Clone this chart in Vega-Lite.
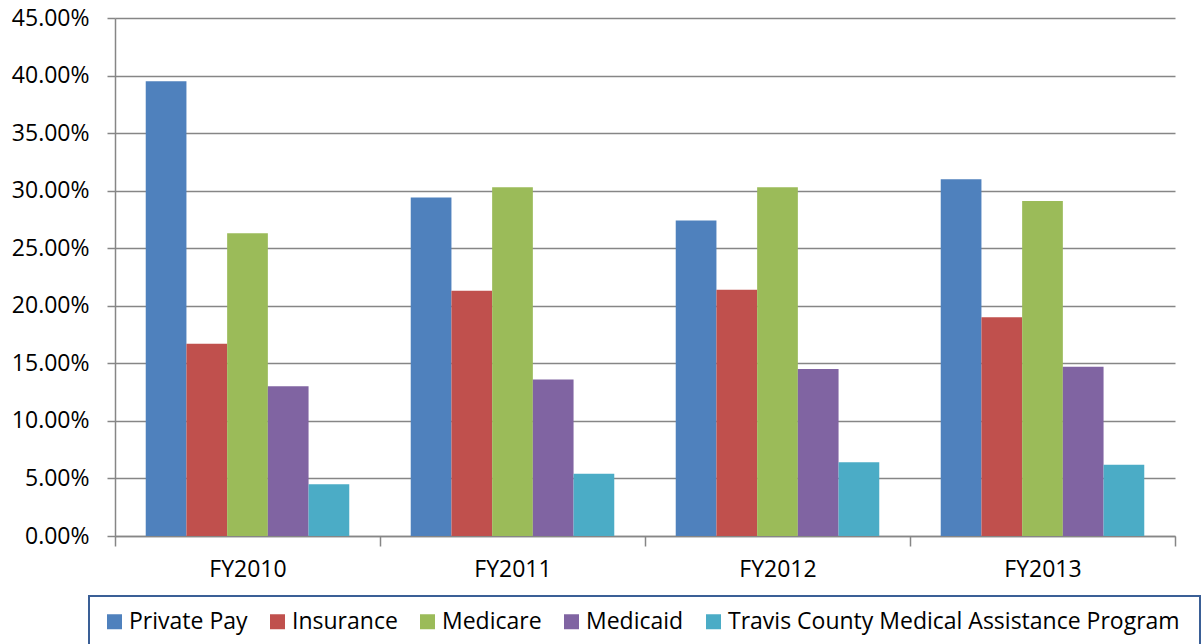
{
  "$schema": "https://vega.github.io/schema/vega-lite/v6.json",
  "width": 1060,
  "height": 518,
  "autosize": {"type": "none"},
  "padding": {"left": 115, "top": 18, "right": 29, "bottom": 108},
  "background": "white",
  "config": {
    "view": {"stroke": null},
    "font": "Open Sans",
    "axis": {"labelFont": "Open Sans", "labelColor": "#000000", "labelFontSize": 23},
    "legend": {"strokeColor": "#3A5F96", "strokeWidth": 2}
  },
  "data": {
    "values": [
      {"year": "FY2010", "payer": "Private Pay", "value": 0.395},
      {"year": "FY2010", "payer": "Insurance", "value": 0.167},
      {"year": "FY2010", "payer": "Medicare", "value": 0.263},
      {"year": "FY2010", "payer": "Medicaid", "value": 0.130},
      {"year": "FY2010", "payer": "Travis  County Medical Assistance Program", "value": 0.045},
      {"year": "FY2011", "payer": "Private Pay", "value": 0.294},
      {"year": "FY2011", "payer": "Insurance", "value": 0.213},
      {"year": "FY2011", "payer": "Medicare", "value": 0.303},
      {"year": "FY2011", "payer": "Medicaid", "value": 0.136},
      {"year": "FY2011", "payer": "Travis  County Medical Assistance Program", "value": 0.054},
      {"year": "FY2012", "payer": "Private Pay", "value": 0.274},
      {"year": "FY2012", "payer": "Insurance", "value": 0.214},
      {"year": "FY2012", "payer": "Medicare", "value": 0.303},
      {"year": "FY2012", "payer": "Medicaid", "value": 0.145},
      {"year": "FY2012", "payer": "Travis  County Medical Assistance Program", "value": 0.064},
      {"year": "FY2013", "payer": "Private Pay", "value": 0.310},
      {"year": "FY2013", "payer": "Insurance", "value": 0.190},
      {"year": "FY2013", "payer": "Medicare", "value": 0.291},
      {"year": "FY2013", "payer": "Medicaid", "value": 0.147},
      {"year": "FY2013", "payer": "Travis  County Medical Assistance Program", "value": 0.062}
    ]
  },
  "mark": {"type": "bar"},
  "encoding": {
    "x": {
      "field": "year",
      "type": "nominal",
      "scale": {"paddingInner": 0, "paddingOuter": 0},
      "axis": {
        "title": null,
        "labelAngle": 0,
        "tickBand": "extent",
        "tickSize": 10,
        "tickColor": "#868686",
        "tickWidth": 1.5,
        "domainColor": "#868686",
        "domainWidth": 1.5,
        "labelPadding": 12,
        "grid": false
      }
    },
    "xOffset": {
      "field": "payer",
      "type": "nominal",
      "sort": ["Private Pay", "Insurance", "Medicare", "Medicaid", "Travis  County Medical Assistance Program"],
      "scale": {"paddingInner": 0, "paddingOuter": 0.755}
    },
    "y": {
      "field": "value",
      "type": "quantitative",
      "scale": {"domain": [0, 0.45], "nice": false},
      "axis": {
        "title": null,
        "format": ".2%",
        "values": [0, 0.05, 0.1, 0.15, 0.2, 0.25, 0.3, 0.35, 0.4, 0.45],
        "tickSize": 8,
        "tickColor": "#868686",
        "tickWidth": 1.5,
        "domainColor": "#868686",
        "domainWidth": 1.5,
        "gridColor": "#868686",
        "gridWidth": 1.5,
        "labelPadding": 18
      }
    },
    "color": {
      "field": "payer",
      "type": "nominal",
      "sort": ["Private Pay", "Insurance", "Medicare", "Medicaid", "Travis  County Medical Assistance Program"],
      "scale": {
        "domain": ["Private Pay", "Insurance", "Medicare", "Medicaid", "Travis  County Medical Assistance Program"],
        "range": ["#4F81BD", "#C0504D", "#9BBB59", "#8064A2", "#4BACC6"]
      },
      "legend": {
        "title": null,
        "orient": "none",
        "direction": "horizontal",
        "legendX": -26,
        "legendY": 578,
        "padding": 14,
        "symbolType": "square",
        "symbolSize": 225,
        "symbolStrokeWidth": 0,
        "symbolOpacity": 1,
        "labelFont": "Open Sans",
        "labelFontSize": 23,
        "labelColor": "#000000",
        "labelLimit": 600,
        "columnPadding": 18,
        "labelOffset": 3
      }
    }
  }
}
